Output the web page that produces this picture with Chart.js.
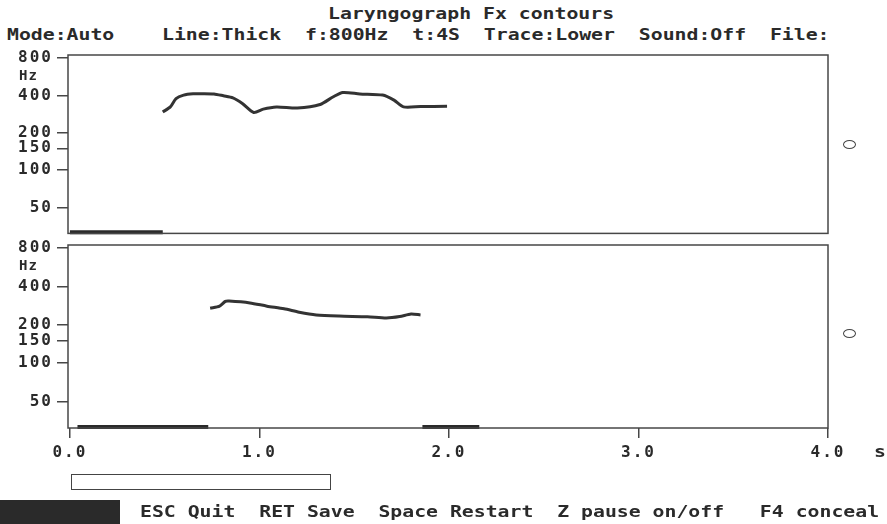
<!DOCTYPE html>
<html>
<head>
<meta charset="utf-8">
<script src="https://cdn.jsdelivr.net/npm/chart.js@4.4.1/dist/chart.umd.min.js"></script>
<style>
  body { margin: 0; background: #fff; width: 887px; height: 524px; overflow: hidden; position: relative; }
  .txt { position: absolute; font-family: 'DejaVu Sans Mono', monospace; font-size: 15px; font-weight: bold; line-height: 18px;
         color: #2a2a2a; white-space: pre; transform: scaleX(1.32); transform-origin: left center; }
  canvas { position: absolute; left: 0; }
  .ring { position: absolute; width: 11px; height: 7px; border: 1.4px solid #444; border-radius: 50%; }
</style>
</head>
<body>
<div class="txt" style="left:328px; top:5px;">Laryngograph Fx contours</div>
<div class="txt" style="left:7px; top:26px;">Mode:Auto    Line:Thick  f:800Hz  t:4S  Trace:Lower  Sound:Off  File:</div>

<canvas id="topFx" width="887" height="207" style="top:40px; width:887px; height:207px;"></canvas>
<canvas id="lowFx" width="887" height="250" style="top:230px; width:887px; height:250px;"></canvas>

<div class="ring" style="left:843px; top:140px;"></div>
<div class="ring" style="left:843px; top:329px;"></div>
<div class="txt" style="left:874px; top:443px;">s</div>

<div style="position:absolute; left:71px; top:474px; width:258px; height:14px; border:1.5px solid #444;"></div>
<div style="position:absolute; left:0; top:500px; width:120px; height:24px; background:#2a2a2a;"></div>
<div class="txt" style="left:140px; top:503px;">ESC Quit  RET Save  Space Restart  Z pause on/off   F4 conceal</div>

<script>
// upper trace (seconds, Hz)
const timeUpper = [0.49, 0.53, 0.56, 0.60, 0.65, 0.70, 0.76, 0.81, 0.86, 0.91, 0.97, 1.02, 1.09, 1.20, 1.32, 1.39, 1.44, 1.53, 1.65, 1.71, 1.76, 1.85, 1.99];
const fxUpper   = [294, 323, 377, 402, 412, 413, 411, 397, 382, 344, 291, 310, 323, 317, 338, 390, 422, 411, 402, 366, 323, 325, 327];
// lower trace
const timeLower = [0.74, 0.79, 0.82, 0.84, 0.95, 1.04, 1.13, 1.21, 1.30, 1.42, 1.57, 1.67, 1.74, 1.80, 1.85];
const fxLower   = [270, 280, 305, 307, 297, 280, 267, 251, 239, 234, 231, 226, 232, 243, 239];
// voicing marks along the floor
const voicedUpper = [[0.0, 0.49]];
const voicedLower = [[0.04, 0.73], [1.86, 2.16]];
const fxTicks = [50, 100, 150, 200, 400, 800];
const timeTicks = [0, 1, 2, 3, 4];
const fxMin = 31, fxMax = 845;

const ink = '#333333';
const frame = '#474747';

function pairs(xs, ys) { return xs.map((x, i) => ({ x: x, y: ys[i] })); }

function voicingSets(spans) {
    return spans.map(s => ({
        data: [{ x: s[0], y: fxMin + 0.6 }, { x: s[1], y: fxMin + 0.6 }],
        borderColor: '#2a2a2a', borderWidth: 4, pointRadius: 0, clip: false
    }));
}

const boxPlugin = {
    id: 'box',
    beforeDraw(chart) {
        chart.ctx.letterSpacing = '2px';
    },
    afterDraw(chart) {
        const a = chart.chartArea, ctx = chart.ctx;
        ctx.save();
        ctx.strokeStyle = frame;
        ctx.lineWidth = 1.5;
        ctx.strokeRect(a.left, a.top, a.right - a.left, a.bottom - a.top);
        // unit under the 800 tick
        const y = chart.scales.y.getPixelForValue(800);
        ctx.letterSpacing = '1px';
        ctx.font = 'bold 14px "DejaVu Sans Mono"';
        ctx.fillStyle = '#2a2a2a';
        ctx.textBaseline = 'middle';
        ctx.fillText('Hz', 19, y + 18);
        ctx.restore();
    }
};

function makePanel(id, times, values, voiced, showTime, pad) {
    const ctx = document.getElementById(id).getContext('2d');
    return new Chart(ctx, {
        type: 'line',
        data: {
            datasets: [{
                data: pairs(times, values),
                borderColor: ink, borderWidth: 3, pointRadius: 0, tension: 0.25
            }].concat(voicingSets(voiced))
        },
        options: {
            responsive: false,
            animation: false,
            events: [],
            layout: { padding: pad },
            plugins: { legend: { display: false }, tooltip: { enabled: false } },
            scales: {
                x: {
                    type: 'linear', min: -0.01, max: 4,
                    display: showTime,
                    afterBuildTicks: s => { s.ticks = timeTicks.map(v => ({ value: v })); },
                    afterFit: s => { if (showTime) s.height = 40; },
                    border: { display: false },
                    grid: { drawOnChartArea: false, drawTicks: true, tickLength: 10, color: frame, lineWidth: 1.5 },
                    ticks: {
                        color: '#2a2a2a', padding: 5, maxRotation: 0,
                        font: { family: 'DejaVu Sans Mono', size: 16, weight: 'bold' },
                        callback: v => v.toFixed(1)
                    }
                },
                y: {
                    type: 'logarithmic', min: fxMin, max: fxMax,
                    afterBuildTicks: s => { s.ticks = fxTicks.map(v => ({ value: v })); },
                    afterFit: s => { s.width = 68; },
                    border: { display: false },
                    grid: { drawOnChartArea: false, drawTicks: true, tickLength: 11, color: frame, lineWidth: 1.5 },
                    ticks: {
                        color: '#2a2a2a', padding: 4, autoSkip: false,
                        font: { family: 'DejaVu Sans Mono', size: 16, weight: 'bold' },
                        callback: v => String(v)
                    }
                }
            }
        },
        plugins: [boxPlugin]
    });
}

makePanel('topFx', timeUpper, fxUpper, voicedUpper, false, { top: 15, bottom: 0, left: 0, right: 59 });
makePanel('lowFx', timeLower, fxLower, voicedLower, true, { top: 15, bottom: 12, left: 0, right: 59 });
</script>
</body>
</html>
